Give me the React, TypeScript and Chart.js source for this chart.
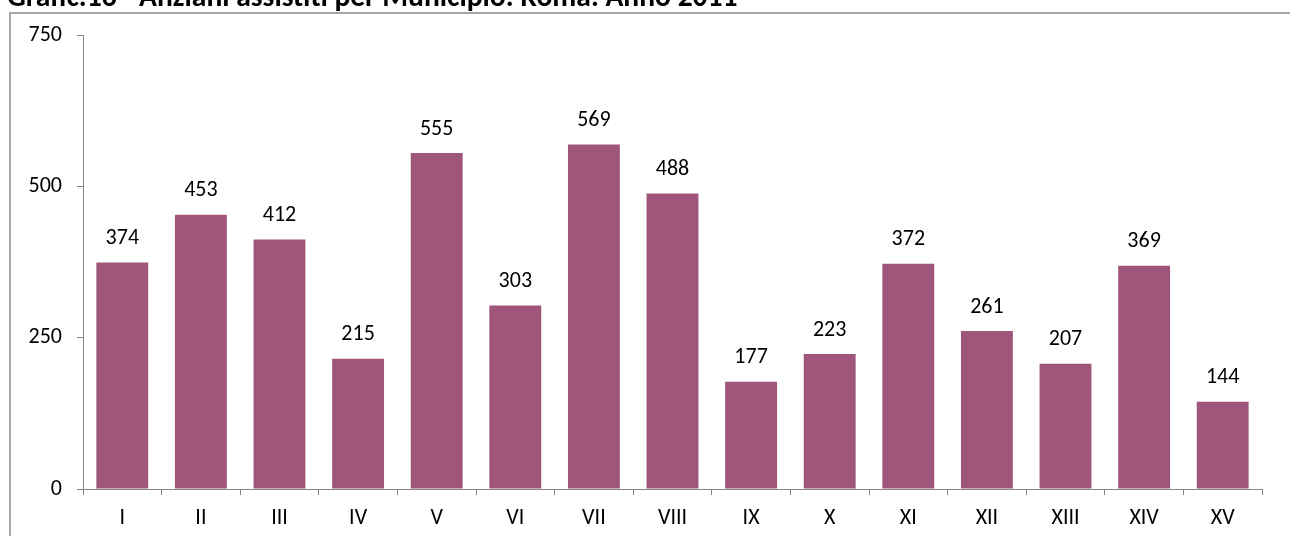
import React, { useEffect, useRef } from "react";
import { Chart, registerables } from "chart.js";

Chart.register(...registerables);

const TITLE = "Grafic.16 - Anziani assistiti per Municipio. Roma. Anno 2011";
const MUNICIPI = ["I", "II", "III", "IV", "V", "VI", "VII", "VIII", "IX", "X", "XI", "XII", "XIII", "XIV", "XV"];
const ANZIANI = [374, 453, 412, 215, 555, 303, 569, 488, 177, 223, 372, 261, 207, 369, 144];
const Y_MIN = 0;
const Y_MAX = 750;
const Y_STEP = 250;

const FONT = "Carlito, Calibri, 'Liberation Sans', sans-serif";
const BAR_COLOR = "#A0557A";
const AXIS_COLOR = "#868686";
const TEXT_SIZE = 22;

export default function App() {
  const ref = useRef<HTMLCanvasElement | null>(null);

  useEffect(() => {
    document.body.style.margin = "0";
    const canvas = ref.current;
    if (!canvas) return;

    const framePlugin = {
      id: "frameTitle",
      afterDraw(chart: any) {
        const ctx = chart.ctx as CanvasRenderingContext2D;
        ctx.save();
        ctx.strokeStyle = "#898989";
        ctx.lineWidth = 1.5;
        ctx.beginPath();
        ctx.moveTo(10, 536);
        ctx.lineTo(10, 13);
        ctx.lineTo(1290, 13);
        ctx.stroke();
        // title, fitted to its width in the reference
        let size = 20;
        ctx.font = `bold ${size}px ${FONT}`;
        const w = ctx.measureText(TITLE).width;
        size = size * (731 / w);
        ctx.font = `bold ${size}px ${FONT}`;
        ctx.fillStyle = "#000";
        ctx.textAlign = "left";
        ctx.textBaseline = "alphabetic";
        ctx.fillText(TITLE, 7, 6);
        ctx.restore();
      },
    };

    const labelPlugin = {
      id: "barValues",
      afterDatasetsDraw(chart: any) {
        const ctx = chart.ctx as CanvasRenderingContext2D;
        const meta = chart.getDatasetMeta(0);
        ctx.save();
        ctx.font = `${TEXT_SIZE}px ${FONT}`;
        ctx.fillStyle = "#000";
        ctx.textAlign = "center";
        ctx.textBaseline = "middle";
        meta.data.forEach((bar: any, i: number) => {
          ctx.fillText(String(ANZIANI[i]), bar.x, bar.y - 24);
        });
        ctx.restore();
      },
    };

    const chart = new Chart(canvas, {
      type: "bar",
      data: {
        labels: MUNICIPI,
        datasets: [
          {
            data: ANZIANI,
            backgroundColor: BAR_COLOR,
            borderWidth: 0,
            barPercentage: 0.66,
            categoryPercentage: 1,
          },
        ],
      },
      options: {
        responsive: false,
        animation: false,
        devicePixelRatio: 1,
        layout: { padding: { left: 0, right: 28, top: 35, bottom: 0 } },
        plugins: {
          legend: { display: false },
          tooltip: { enabled: false },
          title: { display: false },
        },
        scales: {
          x: {
            afterFit: (s: any) => {
              s.height = 47;
            },
            grid: {
              offset: true,
              drawOnChartArea: false,
              drawTicks: true,
              tickLength: 6,
              color: AXIS_COLOR,
            },
            border: { color: AXIS_COLOR, width: 1 },
            ticks: {
              color: "#000",
              font: { family: FONT, size: TEXT_SIZE },
              padding: 10,
              maxRotation: 0,
              autoSkip: false,
            },
          },
          y: {
            min: Y_MIN,
            max: Y_MAX,
            afterFit: (s: any) => {
              s.width = 83;
            },
            grid: {
              drawOnChartArea: false,
              drawTicks: true,
              tickLength: 6,
              color: AXIS_COLOR,
            },
            border: { color: AXIS_COLOR, width: 1 },
            ticks: {
              stepSize: Y_STEP,
              color: "#000",
              font: { family: FONT, size: TEXT_SIZE },
              padding: 15,
            },
          },
        },
      },
      plugins: [framePlugin, labelPlugin],
    });

    return () => chart.destroy();
  }, []);

  return (
    <div style={{ position: "absolute", left: 0, top: 0, width: 1290, height: 536, background: "#fff" }}>
      <canvas ref={ref} width={1290} height={536} style={{ display: "block" }} />
    </div>
  );
}
